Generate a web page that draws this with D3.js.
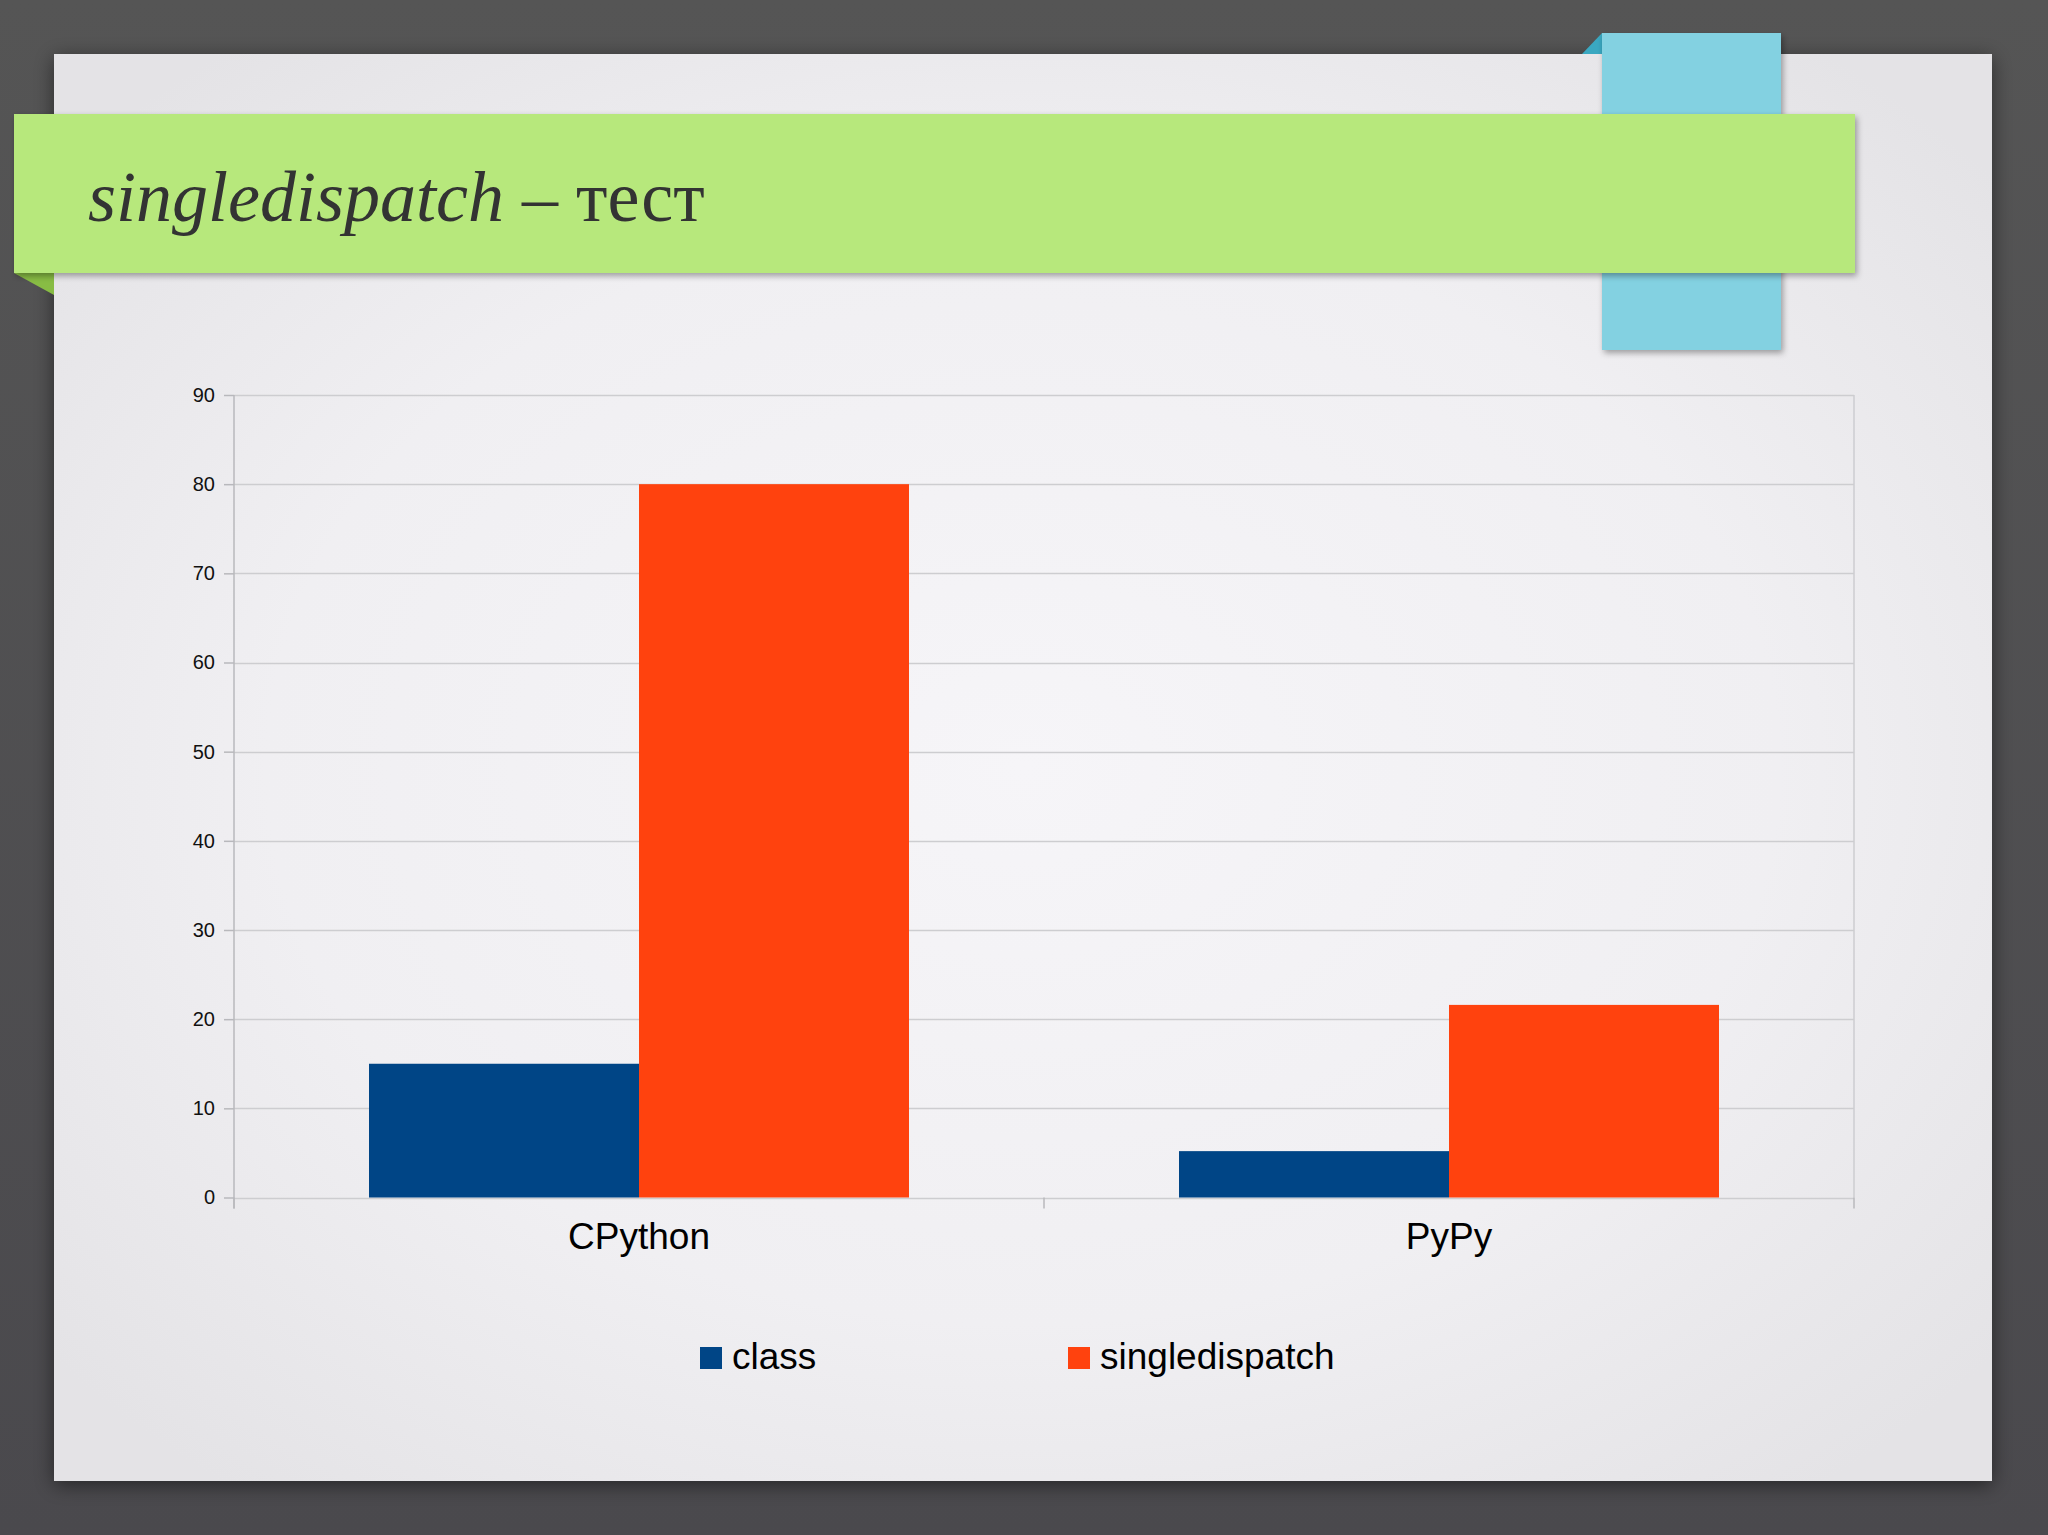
<!DOCTYPE html>
<html>
<head>
<meta charset="utf-8">
<script src="https://cdn.jsdelivr.net/npm/d3@7"></script>
<style>
  html, body { margin: 0; padding: 0; background: #4f4e52; overflow: hidden; }
  svg { display: block; }
</style>
</head>
<body>
<script>
/**
 * Données du graphique
 */
const categories = ["CPython", "PyPy"];
const seriesNames = ["class", "singledispatch"];
const classValues = [15, 5.2];
const singledispatchValues = [80, 21.6];
const yTickValues = [0, 10, 20, 30, 40, 50, 60, 70, 80, 90];
const seriesColors = ["#004586", "#ff420e"];

const width = 2048;
const height = 1535;

// lignes du tableau construites depuis les séries
const rows = categories.map((c, i) => ({
  category: c,
  values: [classValues[i], singledispatchValues[i]]
}));

const svg = d3.create("svg")
  .attr("width", width)
  .attr("height", height)
  .attr("viewBox", `0 0 ${width} ${height}`);

const defs = svg.append("defs");

const bgGrad = defs.append("linearGradient").attr("id", "bg")
  .attr("x1", 0).attr("y1", 0).attr("x2", 0).attr("y2", 1);
bgGrad.append("stop").attr("offset", 0).attr("stop-color", "#555555");
bgGrad.append("stop").attr("offset", 1).attr("stop-color", "#4a494d");

const slideGrad = defs.append("radialGradient").attr("id", "slide")
  .attr("cx", "0.5").attr("cy", "0.5").attr("r", "0.65");
slideGrad.append("stop").attr("offset", 0).attr("stop-color", "#f6f5f8");
slideGrad.append("stop").attr("offset", 0.6).attr("stop-color", "#f0eff2");
slideGrad.append("stop").attr("offset", 1).attr("stop-color", "#e4e3e6");

const shadow = defs.append("filter").attr("id", "shadow")
  .attr("x", "-5%").attr("y", "-5%").attr("width", "110%").attr("height", "115%");
shadow.append("feDropShadow")
  .attr("dx", 2).attr("dy", 3).attr("stdDeviation", 3)
  .attr("flood-color", "#000").attr("flood-opacity", 0.35);

const slideShadow = defs.append("filter").attr("id", "slideShadow")
  .attr("x", "-5%").attr("y", "-5%").attr("width", "110%").attr("height", "110%");
slideShadow.append("feDropShadow")
  .attr("dx", 0).attr("dy", 4).attr("stdDeviation", 10)
  .attr("flood-color", "#000").attr("flood-opacity", 0.5);

// fond sombre et diapositive
svg.append("rect").attr("width", width).attr("height", height).attr("fill", "url(#bg)");
svg.append("rect")
  .attr("x", 54).attr("y", 54).attr("width", 1938).attr("height", 1427)
  .attr("fill", "url(#slide)").attr("filter", "url(#slideShadow)");

// ruban bleu
svg.append("polygon")
  .attr("points", "1582,54 1602,33 1602,54")
  .attr("fill", "#3aa8c1");
svg.append("rect")
  .attr("x", 1602).attr("y", 33).attr("width", 179).attr("height", 317)
  .attr("fill", "#83d1e1").attr("filter", "url(#shadow)");

// bandeau vert
svg.append("polygon")
  .attr("points", "14,273 54,273 54,295")
  .attr("fill", "#88bc44");
svg.append("rect")
  .attr("x", 14).attr("y", 114).attr("width", 1841).attr("height", 159)
  .attr("fill", "#b7e87c").attr("filter", "url(#shadow)");

const title = svg.append("text")
  .attr("x", 88).attr("y", 221)
  .attr("font-family", "'Liberation Serif', 'DejaVu Serif', serif")
  .attr("font-size", 72)
  .attr("fill", "#333333");
title.append("tspan").attr("font-style", "italic").text("singledispatch");
title.append("tspan").text(" – тест");

// échelles
const x0 = d3.scaleBand()
  .domain(categories)
  .range([234, 1854])
  .paddingInner(1 / 3)
  .paddingOuter(1 / 6);

const x1 = d3.scaleBand()
  .domain(seriesNames)
  .range([0, x0.bandwidth()]);

const y = d3.scaleLinear()
  .domain([0, 90])
  .range([1197.5, 395]);

const color = d3.scaleOrdinal(seriesNames, seriesColors);

// grille horizontale
svg.append("g")
  .selectAll("line")
  .data(yTickValues)
  .join("line")
  .attr("x1", x0.range()[0]).attr("x2", x0.range()[1])
  .attr("y1", d => Math.round(y(d)) + 0.5).attr("y2", d => Math.round(y(d)) + 0.5)
  .attr("stroke", "#cdcdd0").attr("stroke-width", 1.5);

// bord droit de la zone de tracé
svg.append("line")
  .attr("x1", x0.range()[1]).attr("x2", x0.range()[1])
  .attr("y1", y(90)).attr("y2", y(0))
  .attr("stroke", "#cdcdd0").attr("stroke-width", 1.5);

// barres
svg.append("g")
  .selectAll("g")
  .data(rows)
  .join("g")
  .attr("transform", d => `translate(${x0(d.category)},0)`)
  .selectAll("rect")
  .data(d => d.values.map((v, i) => ({ key: seriesNames[i], value: v })))
  .join("rect")
  .attr("x", d => x1(d.key))
  .attr("y", d => y(d.value))
  .attr("width", x1.bandwidth())
  .attr("height", d => y(0) - y(d.value))
  .attr("fill", d => color(d.key));

// axe Y
const yAxis = svg.append("g")
  .attr("transform", `translate(${x0.range()[0]},0)`)
  .call(d3.axisLeft(y).tickValues(yTickValues).tickSize(10).tickPadding(9));
yAxis.select(".domain").remove();
yAxis.selectAll(".tick line").attr("stroke", "#b8b8bc").attr("stroke-width", 1.5);
yAxis.selectAll(".tick text")
  .attr("font-family", "'Liberation Sans', Arial, sans-serif")
  .attr("font-size", 20)
  .attr("fill", "#111");

svg.append("line")
  .attr("x1", x0.range()[0]).attr("x2", x0.range()[0])
  .attr("y1", y(90)).attr("y2", y(0) + 11)
  .attr("stroke", "#b8b8bc").attr("stroke-width", 1.5);

// graduations X aux limites des catégories
const halfGap = x0.step() * x0.paddingInner() / 2;
const boundaries = [x0(categories[0]) - halfGap]
  .concat(categories.map(c => x0(c) + x0.bandwidth() + halfGap));

svg.append("g")
  .selectAll("line")
  .data(boundaries)
  .join("line")
  .attr("x1", d => d).attr("x2", d => d)
  .attr("y1", y(0)).attr("y2", y(0) + 11)
  .attr("stroke", "#b8b8bc").attr("stroke-width", 1.5);

// étiquettes des catégories
const xAxis = svg.append("g")
  .attr("transform", `translate(0,${y(0)})`)
  .call(d3.axisBottom(x0).tickSize(0).tickPadding(25));
xAxis.select(".domain").remove();
xAxis.selectAll(".tick text")
  .attr("font-family", "'Liberation Sans', Arial, sans-serif")
  .attr("font-size", 37)
  .attr("fill", "#000");

// légende
const legend = svg.append("g")
  .selectAll("g")
  .data(seriesNames)
  .join("g")
  .attr("transform", (d, i) => `translate(${700 + i * 368},1347)`);

legend.append("rect")
  .attr("width", 22).attr("height", 22)
  .attr("fill", d => color(d));

legend.append("text")
  .attr("x", 32).attr("y", 22)
  .attr("font-family", "'Liberation Sans', Arial, sans-serif")
  .attr("font-size", 37)
  .attr("fill", "#000")
  .text(d => d);

document.body.append(svg.node());
</script>
</body>
</html>
